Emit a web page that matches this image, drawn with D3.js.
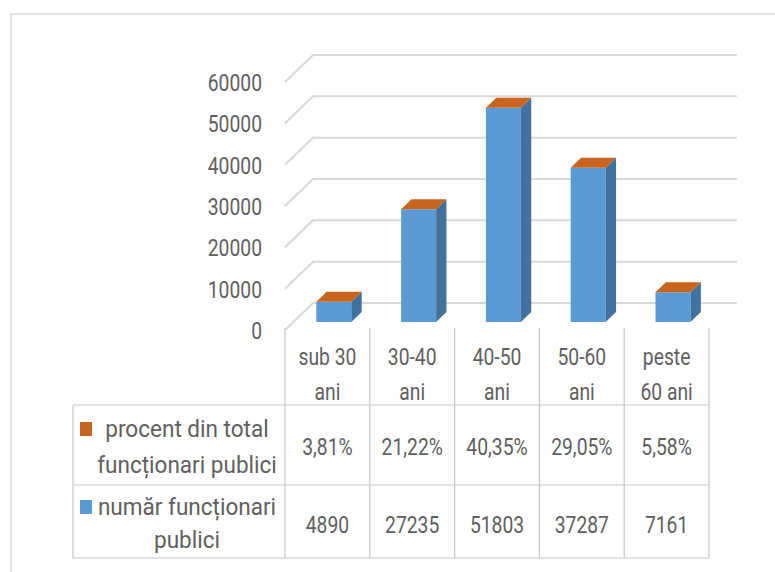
<!DOCTYPE html>
<html>
<head>
<meta charset="utf-8">
<script src="https://cdn.jsdelivr.net/npm/d3@7"></script>
<style>
  body { margin: 0; background: #fff; }
  svg text { font-family: "Liberation Sans Narrow", "Roboto", sans-serif; fill: #5f5f5f; }
</style>
</head>
<body>
<svg id="chart" width="775" height="572"></svg>
<script>
// data
const categories = ['sub 30 ani', '30-40 ani', '40-50 ani', '50-60 ani', 'peste 60 ani'];
const catLines = [['sub 30', 'ani'], ['30-40', 'ani'], ['40-50', 'ani'], ['50-60', 'ani'], ['peste', '60 ani']];
const numar = [4890, 27235, 51803, 37287, 7161];
const procent = [3.81, 21.22, 40.35, 29.05, 5.58];
const yTicks = [0, 10000, 20000, 30000, 40000, 50000, 60000];
const seriesNames = [['procent din total', 'funcționari publici'], ['număr funcționari', 'publici']];

const blue = '#5b9bd5', blueSide = '#41719c', orange = '#c9641f';
const grid = '#d9d9d9', tableLine = '#c8c8c8';

const svg = d3.select('#chart');

// 3d projection: full depth of the floor
const depthX = 28, depthY = 27;
const barF0 = 0.3, barF1 = 0.67;

const x = d3.scaleBand().domain(categories).range([285, 709]);
const y = d3.scaleLinear().domain([0, 60000]).range([330, 82]);

const proj = (px, v, f) => [px + depthX * f, y(v) - depthY * f];

// the font in the picture is condensed: squeeze text horizontally
const fs = 23;
function txt(g, tx, ty, s, anchor, sq) {
  return g.append('text')
    .attr('transform', `translate(${tx},${ty}) scale(${sq || 0.84},1)`)
    .attr('text-anchor', anchor || 'middle')
    .attr('font-size', fs)
    .text(s);
}

// outer border
svg.append('path')
  .attr('d', 'M11,572 V14 H775')
  .attr('fill', 'none').attr('stroke', grid).attr('stroke-width', 1.5);

// gridlines: back wall + side diagonals
const gl = svg.append('g');
yTicks.forEach(v => {
  const a = proj(x.range()[0], v, 0), b = proj(x.range()[0], v, 1), c = proj(x.range()[1], v, 1);
  gl.append('path')
    .attr('d', `M${a}L${b}L${c}`)
    .attr('fill', 'none').attr('stroke', grid).attr('stroke-width', 2);
});

// tick labels
const axisG = svg.append('g');
yTicks.forEach(v => txt(axisG, 262, y(v) + 9, v, 'end'));

// bars
const barW = 35;
const bars = svg.append('g');
categories.forEach((c, i) => {
  const x0 = x(c) + x.bandwidth() / 2 - barW / 2 - 2;
  const x1 = x0 + barW;
  const v = numar[i];
  const vTop = v + procent[i] / 100;
  // front
  bars.append('path')
    .attr('d', `M${proj(x0, 0, barF0)}L${proj(x1, 0, barF0)}L${proj(x1, v, barF0)}L${proj(x0, v, barF0)}Z`)
    .attr('fill', blue);
  // side
  bars.append('path')
    .attr('d', `M${proj(x1, 0, barF0)}L${proj(x1, 0, barF1)}L${proj(x1, v, barF1)}L${proj(x1, v, barF0)}Z`)
    .attr('fill', blueSide);
  // orange series stacked on top (tiny value) - only its top face shows
  bars.append('path')
    .attr('d', `M${proj(x0, vTop, barF0)}L${proj(x1, vTop, barF0)}L${proj(x1, vTop, barF1)}L${proj(x0, vTop, barF1)}Z`)
    .attr('fill', orange);
});

// data table
const tbl = svg.append('g');
const tLeft = 73, tTop = 328, row1 = 405, row2 = 485, tBottom = 558;
const edges = categories.map(c => x(c)).concat([x.range()[1]]);
edges.forEach(e => {
  tbl.append('line').attr('x1', e).attr('x2', e).attr('y1', tTop).attr('y2', tBottom)
    .attr('stroke', tableLine).attr('stroke-width', 1.2);
});
[row1, row2, tBottom].forEach(r => {
  tbl.append('line').attr('x1', tLeft).attr('x2', x.range()[1]).attr('y1', r).attr('y2', r)
    .attr('stroke', tableLine).attr('stroke-width', 1.2);
});
tbl.append('line').attr('x1', tLeft).attr('x2', tLeft).attr('y1', row1).attr('y2', tBottom)
  .attr('stroke', tableLine).attr('stroke-width', 1.2);

categories.forEach((c, i) => {
  const cx = x(c) + x.bandwidth() / 2;
  catLines[i].forEach((t, j) => txt(tbl, cx, 365 + j * 35, t));
  txt(tbl, cx, 455, procent[i].toFixed(2).replace('.', ',') + '%');
  txt(tbl, cx, 533, numar[i]);
});

// row labels with legend keys
const rowBase = [[437, 473], [515, 548]];
const keyColors = [orange, blue];
seriesNames.forEach((lines, r) => {
  tbl.append('rect').attr('x', 80).attr('y', rowBase[r][0] - 15).attr('width', 12).attr('height', 14)
    .attr('fill', keyColors[r]);
  lines.forEach((t, j) => txt(tbl, 187, rowBase[r][j], t, 'middle', 0.98));
});
</script>
</body>
</html>
